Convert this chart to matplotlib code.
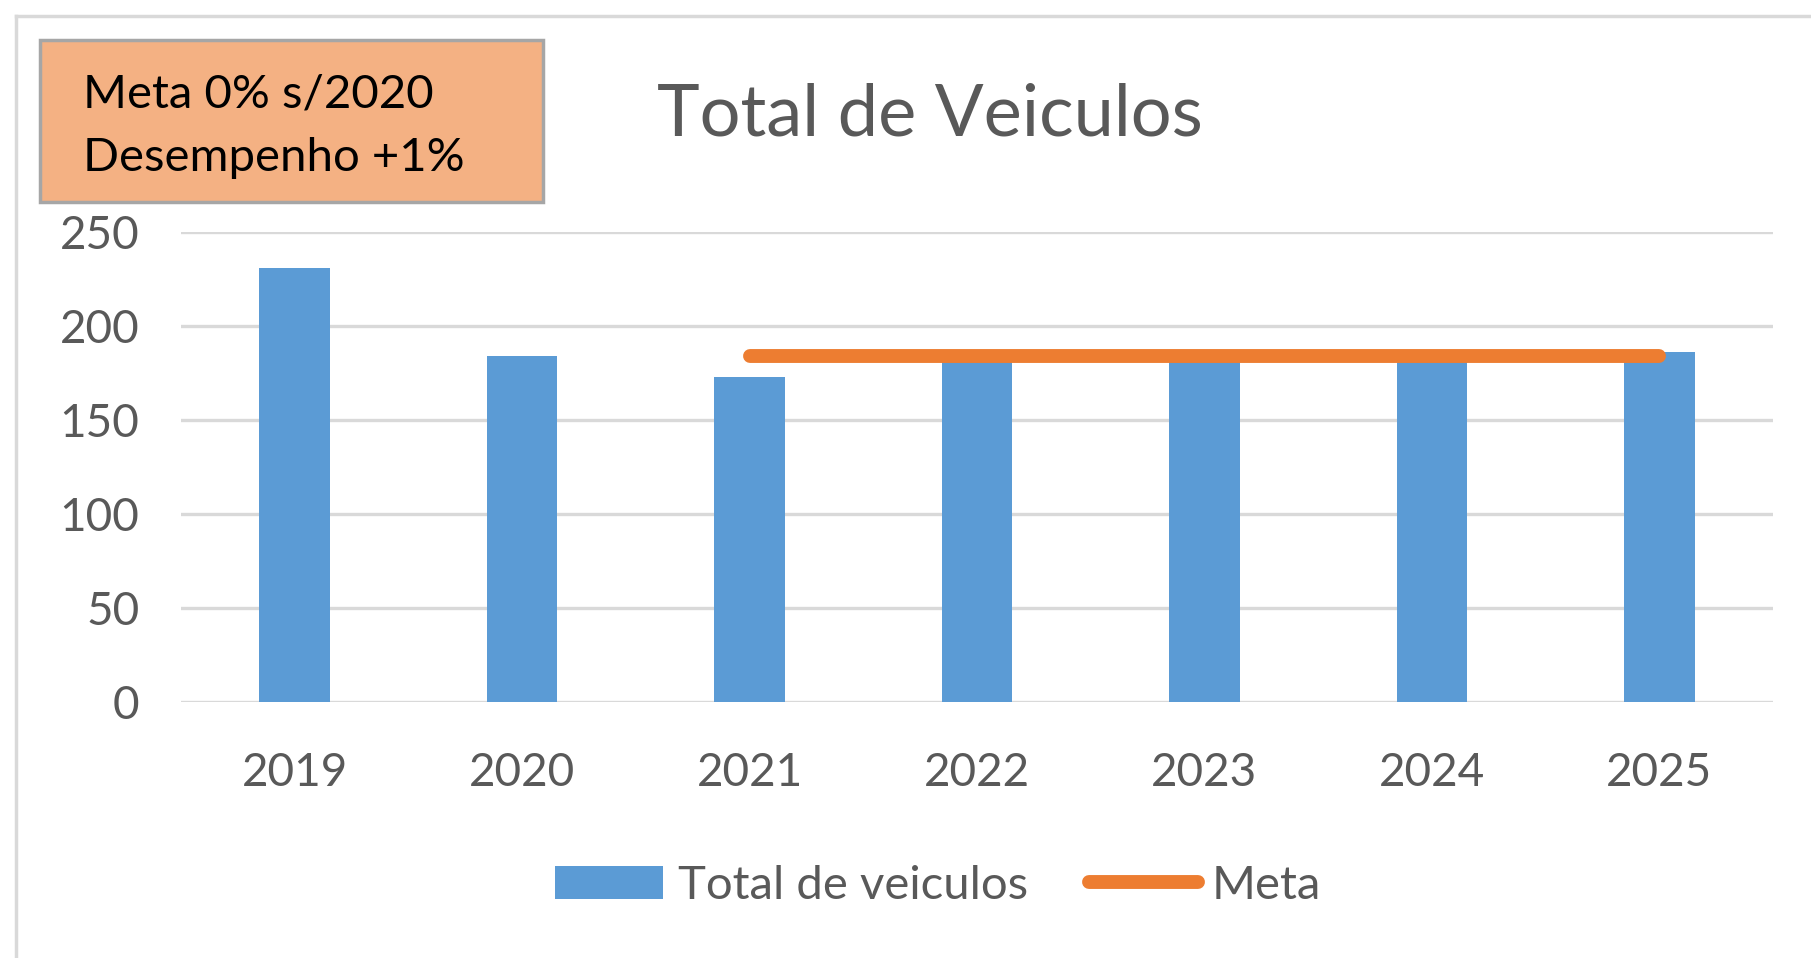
import numpy as np
import matplotlib.pyplot as plt
from matplotlib.patches import Patch, Rectangle
from matplotlib.lines import Line2D

plt.rcParams['font.family'] = ['Lato', 'DejaVu Sans']

anos = ['2019', '2020', '2021', '2022', '2023', '2024', '2025']
total_veiculos = [231, 184, 173, 184, 184, 184, 186]
meta = [np.nan, np.nan, 184, 184, 184, 184, 184]

azul = '#5B9BD5'
laranja = '#ED7D31'
cinza = '#595959'

W, H = 1811, 958
fig = plt.figure(figsize=(W / 100, H / 100), dpi=100)
ax = fig.add_axes([181 / W, 1 - 702 / H, (1773 - 181) / W, (702 - 232) / H])

x = np.arange(len(anos))
ax.bar(x, total_veiculos, width=0.31, color=azul, zorder=2)
ax.plot(x, meta, color=laranja, lw=10, solid_capstyle='round', zorder=3)

ax.set_xlim(-0.5, len(anos) - 0.5)
ax.set_ylim(0, 250)
ax.set_yticks(range(0, 251, 50))
ax.set_xticks(x)
ax.set_xticklabels(anos)
ax.yaxis.grid(True, color='#D9D9D9', lw=2.4, zorder=0)
ax.set_axisbelow(True)
for s in ax.spines.values():
    s.set_visible(False)
ax.tick_params(length=0, labelsize=33, colors=cinza)
ax.tick_params(axis='x', pad=36)
ax.tick_params(axis='y', pad=30)

# titulo
fig.text(930 / W, 1 - 115 / H, 'Total de Veiculos', ha='center', va='center',
         fontsize=52, color=cinza)

# caixa de texto
fig.patches.append(Rectangle((40 / W, 1 - 202 / H), 503 / W, 162 / H,
                             transform=fig.transFigure, facecolor='#F4B183',
                             edgecolor='#A6A6A6', lw=2.5))
fig.text(83 / W, 1 - 95 / H, 'Meta 0% s/2020', ha='left', va='center',
         fontsize=34, color='black')
fig.text(83 / W, 1 - 158 / H, 'Desempenho +1%', ha='left', va='center',
         fontsize=34, color='black')

# moldura
fig.add_artist(Line2D([16 / W, 1], [1 - 16 / H] * 2, transform=fig.transFigure,
                      color='#D9D9D9', lw=2.5))
fig.add_artist(Line2D([16 / W] * 2, [0, 1 - 16 / H], transform=fig.transFigure,
                      color='#D9D9D9', lw=2.5))

handles = [Patch(facecolor=azul), Line2D([], [], color=laranja, lw=10, solid_capstyle='round')]
fig.legend(handles, ['Total de veiculos', 'Meta'], loc='center',
           bbox_to_anchor=(938 / W, 1 - 886 / H), ncol=2, frameon=False,
           fontsize=34, labelcolor=cinza, handlelength=2.3, handletextpad=0.3,
           columnspacing=1.3)

fig.savefig('out.png', dpi=100)
